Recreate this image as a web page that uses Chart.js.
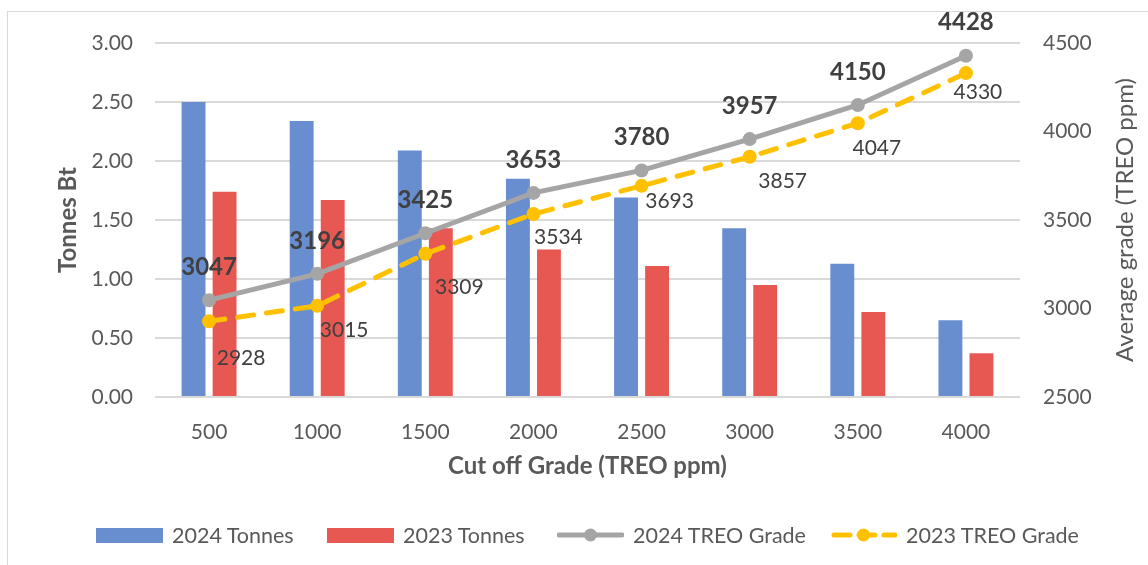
<!DOCTYPE html>
<html>
<head>
<meta charset="utf-8">
<script src="https://cdn.jsdelivr.net/npm/chart.js@4"></script>
<style>
  body { margin: 0; background: #fff; }
  #wrap { position: relative; width: 1148px; height: 565px; overflow: hidden; font-family: Lato, sans-serif; }
  #frame { position: absolute; left: 7px; top: 11px; width: 1160px; height: 580px; border: 1px solid #d9d9d9; box-sizing: border-box; }
  canvas { position: absolute; left: 0; top: 0; }
  #legend { position: absolute; left: 0; top: 522px; height: 26px; width: 1148px; font-size: 21.5px; color: #595959; }
  .item { position: absolute; top: 0; display: flex; align-items: center; height: 26px; }
  .box { width: 67px; height: 15px; margin-right: 9px; }
</style>
</head>
<body>
<div id="wrap">
  <div id="frame"></div>
  <canvas id="chart" width="1148" height="565"></canvas>
  <div id="legend"></div>
</div>
<script>
// cut off grades and values
const cutoffs = ['500', '1000', '1500', '2000', '2500', '3000', '3500', '4000'];
const tonnes2024 = [2.50, 2.34, 2.09, 1.85, 1.69, 1.43, 1.13, 0.65];
const tonnes2023 = [1.74, 1.67, 1.43, 1.25, 1.11, 0.95, 0.72, 0.37];
const grade2024 = [3047, 3196, 3425, 3653, 3780, 3957, 4150, 4428];
const grade2023 = [2928, 3015, 3309, 3534, 3693, 3857, 4047, 4330];

const blue = '#688ecf';
const red = '#e85853';
const grey = '#a5a5a5';
const yellow = '#ffc000';
const fontFamily = 'Lato, sans-serif';
const rightTitle = 'Average grade (TREO ppm)';

// where the 2023 labels sit relative to their point (Excel placed them by hand)
const offs2023 = [[32, 37], [27, 24], [34, 33], [25, 23], [28, 15], [33, 24], [19, 25], [12, 19]];

const pointLabels = {
  id: 'pointLabels',
  afterDatasetsDraw(chart) {
    const ctx = chart.ctx;
    ctx.save();
    ctx.textAlign = 'center';
    ctx.textBaseline = 'middle';
    const m24 = chart.getDatasetMeta(2);
    ctx.font = 'bold 24px ' + fontFamily;
    ctx.fillStyle = '#404040';
    m24.data.forEach((p, i) => {
      ctx.fillText(grade2024[i], p.x, p.y - 33);
    });
    const m23 = chart.getDatasetMeta(3);
    ctx.font = '21px ' + fontFamily;
    m23.data.forEach((p, i) => {
      ctx.fillText(grade2023[i], p.x + offs2023[i][0], p.y + offs2023[i][1]);
    });
    ctx.restore();
  },
  afterDraw(chart) {
    // right axis title reads bottom-to-top in the original, Chart.js turns it the other way
    const ctx = chart.ctx;
    const area = chart.chartArea;
    ctx.save();
    ctx.translate(1125, (area.top + area.bottom) / 2);
    ctx.rotate(-Math.PI / 2);
    ctx.textAlign = 'center';
    ctx.textBaseline = 'middle';
    ctx.font = '24px ' + fontFamily;
    ctx.fillStyle = '#595959';
    ctx.fillText(rightTitle, 0, 0);
    ctx.restore();
  }
};

const ctx = document.getElementById('chart');
new Chart(ctx, {
  type: 'bar',
  data: {
    labels: cutoffs,
    datasets: [
      {
        label: '2024 Tonnes',
        data: tonnes2024,
        backgroundColor: blue,
        yAxisID: 'y',
        categoryPercentage: 0.574,
        barPercentage: 0.77,
        order: 3
      },
      {
        label: '2023 Tonnes',
        data: tonnes2023,
        backgroundColor: red,
        yAxisID: 'y',
        categoryPercentage: 0.574,
        barPercentage: 0.77,
        order: 3
      },
      {
        type: 'line',
        label: '2024 TREO Grade',
        data: grade2024,
        yAxisID: 'y1',
        borderColor: grey,
        backgroundColor: grey,
        borderWidth: 5,
        pointRadius: 7,
        pointBorderWidth: 0,
        pointBackgroundColor: grey,
        order: 1
      },
      {
        type: 'line',
        label: '2023 TREO Grade',
        data: grade2023,
        yAxisID: 'y1',
        borderColor: yellow,
        backgroundColor: yellow,
        borderWidth: 5,
        borderDash: [16, 13],
        borderCapStyle: 'round',
        pointRadius: 7,
        pointBorderWidth: 0,
        pointBackgroundColor: yellow,
        order: 2
      }
    ]
  },
  options: {
    responsive: false,
    animation: false,
    layout: { padding: { top: 43, left: 20, right: 0, bottom: 68 } },
    plugins: {
      legend: { display: false },
      tooltip: { enabled: false }
    },
    scales: {
      x: {
        grid: { display: false },
        border: { display: false },
        ticks: { color: '#595959', font: { family: fontFamily, size: 21 }, padding: 15 },
        title: {
          display: true,
          text: 'Cut off Grade (TREO ppm)',
          color: '#595959',
          font: { family: fontFamily, size: 24, weight: 'bold' },
          padding: { top: 0, bottom: 16 }
        },
        afterFit(scale) { scale.height = 100; }
      },
      y: {
        position: 'left',
        min: 0,
        max: 3,
        ticks: {
          stepSize: 0.5,
          color: '#595959',
          padding: 22,
          font: { family: fontFamily, size: 21 },
          callback: (v) => Number(v).toFixed(2)
        },
        grid: { color: '#d9d9d9', lineWidth: 2, drawTicks: false },
        border: { display: false },
        title: {
          display: true,
          text: 'Tonnes Bt',
          color: '#595959',
          font: { family: fontFamily, size: 24, weight: 'bold' },
          padding: { top: 34, bottom: 0 }
        },
        afterFit(scale) { scale.width = 135; }
      },
      y1: {
        position: 'right',
        min: 2500,
        max: 4500,
        ticks: {
          stepSize: 500,
          color: '#595959',
          padding: 23,
          font: { family: fontFamily, size: 21 },
          callback: (v) => String(v)
        },
        grid: { display: false, drawTicks: false },
        border: { display: false },
        title: { display: false },
        afterFit(scale) { scale.width = 128; }
      }
    }
  },
  plugins: [pointLabels]
});

// legend, same order and look as the Excel one
const legendItems = [
  { text: '2024 Tonnes', kind: 'box', color: blue, x: 96 },
  { text: '2023 Tonnes', kind: 'box', color: red, x: 327 },
  { text: '2024 TREO Grade', kind: 'line', color: grey, x: 557 },
  { text: '2023 TREO Grade', kind: 'dash', color: yellow, x: 830 }
];
const legend = document.getElementById('legend');
legendItems.forEach(it => {
  const d = document.createElement('div');
  d.className = 'item';
  d.style.left = it.x + 'px';
  let sw;
  if (it.kind === 'box') {
    sw = '<div class="box" style="background:' + it.color + '"></div>';
  } else {
    const dash = it.kind === 'dash' ? ' stroke-dasharray="16 9"' : '';
    sw = '<svg width="67" height="20" style="margin-right:9px">' +
      '<line x1="' + (it.kind === 'dash' ? 4 : 2) + '" y1="10" x2="65" y2="10" stroke="' + it.color + '" stroke-width="5" stroke-linecap="round"' + dash + '/>' +
      '<circle cx="33.5" cy="10" r="6.5" fill="' + it.color + '"/></svg>';
  }
  d.innerHTML = sw + '<span>' + it.text + '</span>';
  legend.appendChild(d);
});
</script>
</body>
</html>
